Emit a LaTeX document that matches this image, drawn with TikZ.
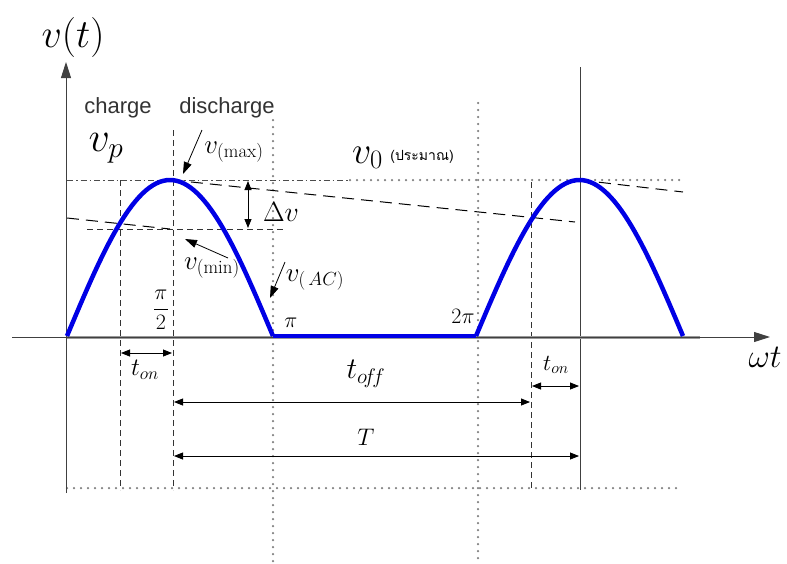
\RequirePackage{fix-cm}
\documentclass[tikz,border=0pt]{standalone}
\usepackage{fontspec}
\setsansfont{Liberation Sans}
\newfontfamily\thaifont[Script=Thai]{Loma}
\usetikzlibrary{arrows.meta}
\newcommand\FSz[1]{\fontsize{#1}{#1}\selectfont}
\begin{document}
\begin{tikzpicture}[x=1pt,y=-1pt,
  axisln/.style={draw=black!75, line width=0.9pt},
  dashln/.style={draw=black!80, line width=0.7pt, dash pattern=on 6pt off 4pt},
  dashdotln/.style={draw=black!70, line width=0.8pt, dash pattern=on 6pt off 3pt on 1.5pt off 3pt},
  longdash/.style={draw=black, line width=1pt, dash pattern=on 12pt off 7pt},
  dotln/.style={draw=black!50, line width=2.5pt, dash pattern=on 0pt off 7pt, line cap=round},
  dimarr/.style={draw=black, line width=0.8pt, {Triangle[length=9pt,width=7pt]}-{Triangle[length=9pt,width=7pt]}},
  ptr/.style={draw=black, line width=0.8pt, -{Triangle[length=12pt,width=8pt]}},
  wave/.style={draw=blue!90!black, line width=4.5pt, line join=round, line cap=butt},
  lbl/.style={inner sep=0pt, text=black},
  word/.style={inner sep=0pt, text=black!80, font=\sffamily\FSz{22}},
]
\useasboundingbox (0,0) rectangle (787,563);

% key coordinates
\coordinate (ytop) at (66,62);
\coordinate (ybot) at (66,493);
\coordinate (xl) at (12,337);
\coordinate (xr) at (770,337);
\coordinate (pk1) at (172,180);
\coordinate (pk2) at (580,180);

% dotted guide lines
\coordinate (d1t) at (273,120); \coordinate (d1b) at (273,563);
\coordinate (d2t) at (478,103); \coordinate (d2b) at (478,563);
\coordinate (bl) at (67,488);   \coordinate (br) at (683,488);
\coordinate (hl) at (67,180);   \coordinate (hm) at (350,180); \coordinate (hr) at (683,180);
\draw[dotln] (d1t) -- (d1b);
\draw[dotln] (d2t) -- (d2b);
\draw[dotln] (bl) -- (br);
\draw[dashdotln] (hl) -- (hm);
\draw[dotln] (hm) -- (hr);

% dashed verticals
\coordinate (v1t) at (120,180); \coordinate (v1b) at (120,490);
\coordinate (v2t) at (173,130); \coordinate (v2b) at (173,490);
\coordinate (v3t) at (531,182); \coordinate (v3b) at (531,490);
\draw[dashln] (v1t) -- (v1b);
\draw[dashln] (v2t) -- (v2b);
\draw[dashln] (v3t) -- (v3b);

% solid vertical at second peak
\coordinate (s1t) at (580,67); \coordinate (s1b) at (580,490);
\draw[axisln] (s1t) -- (s1b);

% vmin level
\coordinate (mnl) at (87,229); \coordinate (mnr) at (285,229);
\draw[dashln] (mnl) -- (mnr);

% decay lines
\coordinate (a1) at (67,218); \coordinate (a2) at (170,229);
\coordinate (b2) at (575,222);
\coordinate (c2) at (683,192);
\draw[longdash] (a1) -- (a2);
\draw[longdash] (pk1) -- (b2);
\draw[longdash] (pk2) -- (c2);

% axes
\coordinate (xg1) at (67,337); \coordinate (xg2) at (700,337);
\draw[draw=black!40, line width=3pt] (xg1) -- (xg2);
\draw[axisln, -{Triangle[length=16pt,width=10pt]}] (xl) -- (xr);
\draw[axisln, -{Triangle[length=16pt,width=10pt]}] (ybot) -- (ytop);

% waveform
\coordinate (w1e) at (273,336); \coordinate (w2s) at (476,336);
\draw[wave] plot[variable=\t, domain=0:180, samples=61] ({67+1.1444*\t}, {336-156*sin(\t)});
\draw[wave] (w1e) -- (w2s);
\draw[wave] plot[variable=\t, domain=0:180, samples=61] ({476+1.15*\t}, {336-156*sin(\t)});

% delta v
\coordinate (dvt) at (248,181); \coordinate (dvb) at (248,228);
\draw[dimarr] (dvt) -- (dvb);

% pointers
\coordinate (pmx1) at (202,130); \coordinate (pmx2) at (183,174);
\coordinate (pmn1) at (228,258); \coordinate (pmn2) at (185,239);
\coordinate (pac1) at (285,262); \coordinate (pac2) at (270,298);
\draw[ptr] (pmx1) -- (pmx2);
\draw[ptr] (pmn1) -- (pmn2);
\draw[ptr] (pac1) -- (pac2);

% time dimension arrows
\coordinate (to1a) at (121,353); \coordinate (to1b) at (172,353);
\coordinate (tfa) at (174,402);  \coordinate (tfb) at (530,402);
\coordinate (to2a) at (532,386); \coordinate (to2b) at (579,386);
\coordinate (Ta) at (174,456);   \coordinate (Tb) at (579,456);
\draw[dimarr] (to1a) -- (to1b);
\draw[dimarr] (tfa) -- (tfb);
\draw[dimarr] (to2a) -- (to2b);
\draw[dimarr] (Ta) -- (Tb);

% labels
\node[lbl, font=\FSz{40}] (lvt) at (73,37) {$v(t)$};
\node[lbl, font=\FSz{33}] (lwt) at (765,357) {$\omega t$};
\node[word] (lch) at (118,108) {charge};
\node[word] (ldis) at (227,108) {discharge};
\node[lbl, font=\FSz{42}] (lvp) at (106,148) {$v_p$};
\node[lbl, font=\FSz{27}] (lvmax) at (234,152) {$v_{(\max)}$};
\node[lbl, font=\FSz{38}, anchor=base west] (lv0) at (352,163) {$v_0$};
\node[lbl, font=\thaifont\FSz{14}] (lthai) at (422,157) {(ประมาณ)};
\node[lbl, font=\FSz{28}] (ldv) at (281,212) {$\Delta v$};
\node[lbl, font=\FSz{27}] (lvmin) at (212,268) {$v_{(\min)}$};
\node[lbl, font=\FSz{27}] (lvac) at (315,280) {$v_{(\,AC)}$};
\node[lbl, font=\FSz{22}] (lpi2) at (161,310) {$\displaystyle\frac{\pi}{2}$};
\node[lbl, font=\FSz{22}] (lpi) at (291,323) {$\pi$};
\node[lbl, font=\FSz{22}] (l2pi) at (463,316) {$2\pi$};
\node[lbl, font=\FSz{25}] (lton1) at (145,370) {$t_{on}$};
\node[lbl, font=\FSz{30}] (ltoff) at (366,374) {$t_{o\!f\!f}$};
\node[lbl, font=\FSz{23}] (lton2) at (556,365) {$t_{on}$};
\node[lbl, font=\FSz{24}] (lT) at (366,437) {$T$};
\end{tikzpicture}
\end{document}
